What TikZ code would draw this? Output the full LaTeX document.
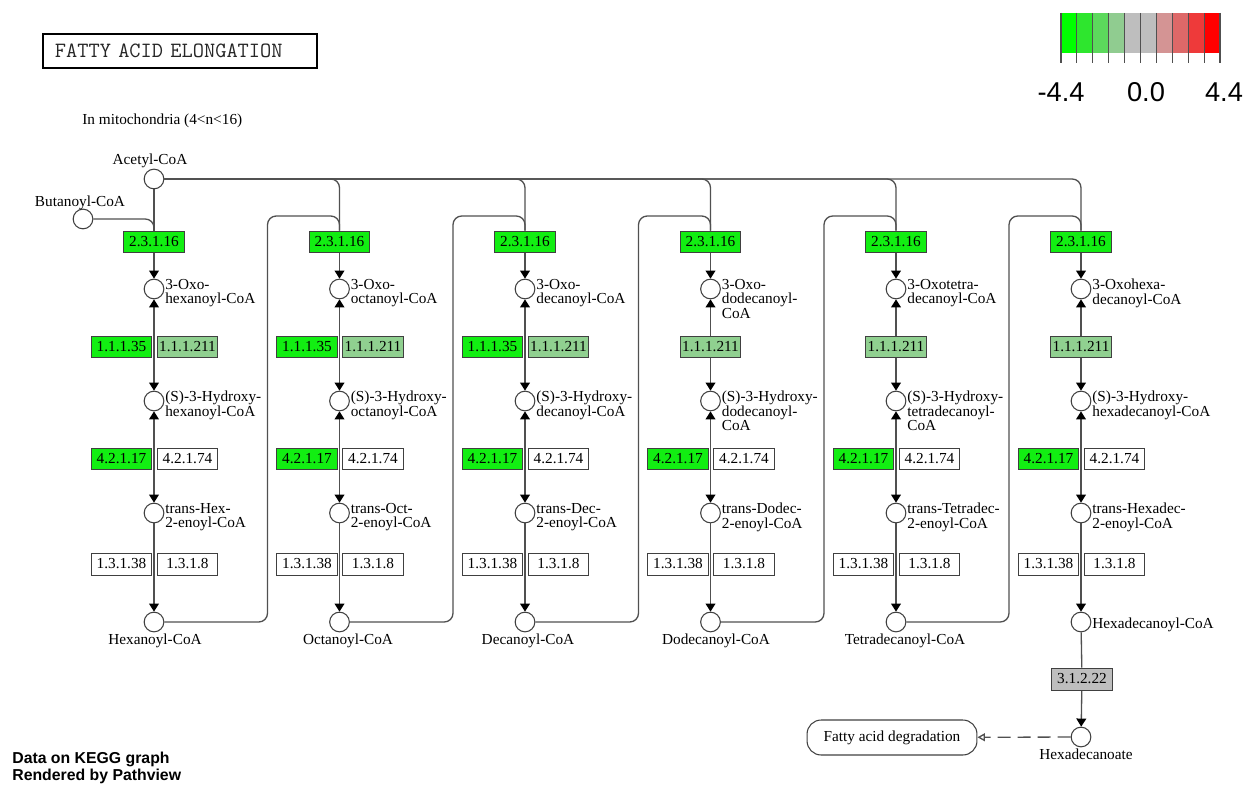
\documentclass[tikz,border=0pt]{standalone}
\usepackage{fontspec}
\setmainfont{Liberation Serif}
\newfontfamily\legendfont{Liberation Sans}
\usetikzlibrary{arrows.meta}
\pgfdeclarelayer{wires}
\pgfsetlayers{wires,main}
\definecolor{upgreen}{HTML}{12EE12}
\definecolor{paleup}{HTML}{90D090}
\definecolor{neutral}{HTML}{BEBEBE}
\definecolor{wire}{HTML}{505050}
\definecolor{rim}{HTML}{404040}
\tikzset{
  cpd/.style={circle, draw=rim, fill=white, line width=0.6pt, minimum size=11.2pt, inner sep=0pt},
  enz/.style={rectangle, draw=rim, line width=0.55pt, minimum width=34.6pt, minimum height=12.5pt,
    inner sep=0pt, font=\fontsize{8.7}{9}\selectfont},
  lbl/.style={inner sep=0pt, align=left, font=\fontsize{8.7}{8.2}\selectfont},
  clbl/.style={inner sep=0pt, font=\fontsize{8.7}{8.2}\selectfont},
  link/.style={draw=wire, line width=0.75pt, rounded corners=5pt},
  tip/.tip={Triangle[length=4.6pt,width=5.6pt,color=black]},
  fwd/.style={link, -tip},
  rev/.style={link, tip-tip},
}
\begin{document}
\begin{tikzpicture}[x=0.02cm, y=-0.02cm]
\useasboundingbox (0,0) rectangle (1250,790);

% heading and compartment note
\node[draw=black, line width=1.1pt, anchor=west, minimum width=155.9pt, minimum height=19.3pt,
  inner xsep=6.8pt, text width=142.3pt, align=left,
  font=\ttfamily\fontsize{12.4}{13}\selectfont, text=black!85] (title) at (42,51) {FATTY ACID ELONGATION};
\node[clbl, anchor=west] (compartment) at (82,121) {In mitochondria (4<n<16)};

% colour key
\foreach \k/\c in {0/00FF00, 1/2EE62E, 2/5CD95C, 3/90CC90, 4/BEBEBE, 5/BEBEBE, 6/D49494, 7/DE6868, 8/EE3A3A, 9/FF0000} {
  \definecolor{keycell}{HTML}{\c}
  \fill[keycell] (1061+15.9*\k,13) rectangle (1061+15.9*\k+15.9,53);
}
\foreach \k in {0,...,10}
  \draw[wire, line width=0.6pt] (1061+15.9*\k,13) -- (1061+15.9*\k,63);
\node[font=\legendfont\fontsize{15.5}{16}\selectfont] (keymin) at (1061,92) {-4.4};
\node[font=\legendfont\fontsize{15.5}{16}\selectfont] (keymid) at (1146,92) {0.0};
\node[font=\legendfont\fontsize{15.5}{16}\selectfont] (keymax) at (1224,92) {4.4};

% starting compounds
\node[cpd] (acetyl) at (154,179) {};
\node[clbl, anchor=south] (acetyllbl) at (150,168) {Acetyl-CoA};
\node[cpd] (butanoyl) at (83,219) {};
\node[clbl, anchor=south] (butanoyllbl) at (80,210) {Butanoyl-CoA};

% one elongation cycle per column
\foreach \i/\x/\oxo/\hyd/\tr in {
  1/154/{3-Oxo-\\hexanoyl-CoA}/{(S)-3-Hydroxy-\\hexanoyl-CoA}/{trans-Hex-\\2-enoyl-CoA},
  2/339.5/{3-Oxo-\\octanoyl-CoA}/{(S)-3-Hydroxy-\\octanoyl-CoA}/{trans-Oct-\\2-enoyl-CoA},
  3/525/{3-Oxo-\\decanoyl-CoA}/{(S)-3-Hydroxy-\\decanoyl-CoA}/{trans-Dec-\\2-enoyl-CoA},
  4/710.5/{3-Oxo-\\dodecanoyl-\\CoA}/{(S)-3-Hydroxy-\\dodecanoyl-\\CoA}/{trans-Dodec-\\2-enoyl-CoA},
  5/896/{3-Oxotetra-\\decanoyl-CoA}/{(S)-3-Hydroxy-\\tetradecanoyl-\\CoA}/{trans-Tetradec-\\2-enoyl-CoA},
  6/1081/{3-Oxohexa-\\decanoyl-CoA}/{(S)-3-Hydroxy-\\hexadecanoyl-CoA}/{trans-Hexadec-\\2-enoyl-CoA}}
{
  \node[enz, fill=upgreen] (c\i-kas) at (\x,242) {2.3.1.16};
  \node[cpd] (c\i-oxo) at (\x,289) {};
  \node[cpd] (c\i-hyd) at (\x,401) {};
  \node[cpd] (c\i-tr) at (\x,513) {};
  \node[cpd] (c\i-acyl) at (\x,622) {};
  \node[lbl, anchor=north west] (c\i-oxolbl) at (\x+11,279) {\oxo};
  \node[lbl, anchor=north west] (c\i-hydlbl) at (\x+11,391) {\hyd};
  \node[lbl, anchor=north west] (c\i-trlbl) at (\x+11,503) {\tr};
  \node[enz, fill=upgreen] (c\i-hta) at (\x-32.5,459) {4.2.1.17};
  \node[enz, fill=white] (c\i-htb) at (\x+33.5,459) {4.2.1.74};
  \node[enz, fill=white] (c\i-era) at (\x-32.5,564) {1.3.1.38};
  \node[enz, fill=white] (c\i-erb) at (\x+33.5,564) {1.3.1.8};
  \begin{pgfonlayer}{wires}
    \draw[fwd] (c\i-kas) -- (c\i-oxo);
    \draw[rev] (c\i-oxo) -- (c\i-hyd);
    \draw[rev] (c\i-hyd) -- (c\i-tr);
    \draw[fwd] (c\i-tr) -- (c\i-acyl);
  \end{pgfonlayer}
}

% 3-hydroxyacyl-CoA dehydrogenases
\foreach \i/\x in {1/154, 2/339.5, 3/525} {
  \node[enz, fill=upgreen] (c\i-hada) at (\x-32.5,347) {1.1.1.35};
  \node[enz, fill=paleup] (c\i-hadb) at (\x+33.5,347) {1.1.1.211};
}
\foreach \i/\x in {4/710.5, 5/896, 6/1081}
  \node[enz, fill=paleup] (c\i-hadb) at (\x,347) {1.1.1.211};

% acyl-CoA products
\foreach \i/\x/\t in {1/155/Hexanoyl-CoA, 2/348/Octanoyl-CoA, 3/528/Decanoyl-CoA,
                      4/716/Dodecanoyl-CoA, 5/905/Tetradecanoyl-CoA}
  \node[clbl, anchor=north] (c\i-acyllbl) at (\x,634) {\t};
\node[clbl, anchor=west] (c6-acyllbl) at (1092,625) {Hexadecanoyl-CoA};

% thioesterase step and exit to degradation
\node[enz, fill=neutral] (c6-tes) at (1082,679) {3.1.2.22};
\node[cpd] (hexadecanoate) at (1081,737) {};
\node[clbl, anchor=north] (hexadecanoatelbl) at (1086,749) {Hexadecanoate};
\node[draw=rim, line width=0.6pt, rounded corners=8pt, minimum width=96.7pt, minimum height=19.9pt,
  inner sep=0pt, font=\fontsize{8.7}{9}\selectfont] (fad) at (892,737.5) {Fatty acid degradation};

% credits
\node[anchor=north west, inner sep=0pt, align=left,
  font=\legendfont\bfseries\fontsize{9}{9.7}\selectfont] (credit) at (12,752)
  {Data on KEGG graph\\Rendered by Pathview};

% feeding connectors
\begin{pgfonlayer}{wires}
  \draw[link] (acetyl) -- (c1-kas);
  \draw[link] (butanoyl) -- (154,219) -- (c1-kas.north);
  \foreach \i/\x in {2/339.5, 3/525, 4/710.5, 5/896, 6/1081}
    \draw[link] (acetyl) -- (\x,179) -- (c\i-kas.north);
  \foreach \p/\i/\x in {1/2/339.5, 2/3/525, 3/4/710.5, 4/5/896, 5/6/1081}
    \draw[link] (c\p-acyl) -- (\x-72,622) -- (\x-72,216) -- (\x,216) -- (c\i-kas.north);
  \draw[link] (c6-acyl) -- (c6-tes);
  \draw[fwd] (c6-tes) -- (hexadecanoate);
  \draw[link, dash pattern=on 7.4pt off 4pt, -{Triangle[open,length=4.2pt,width=4.5pt]}]
    (hexadecanoate) -- (fad);
\end{pgfonlayer}
\end{tikzpicture}
\end{document}
